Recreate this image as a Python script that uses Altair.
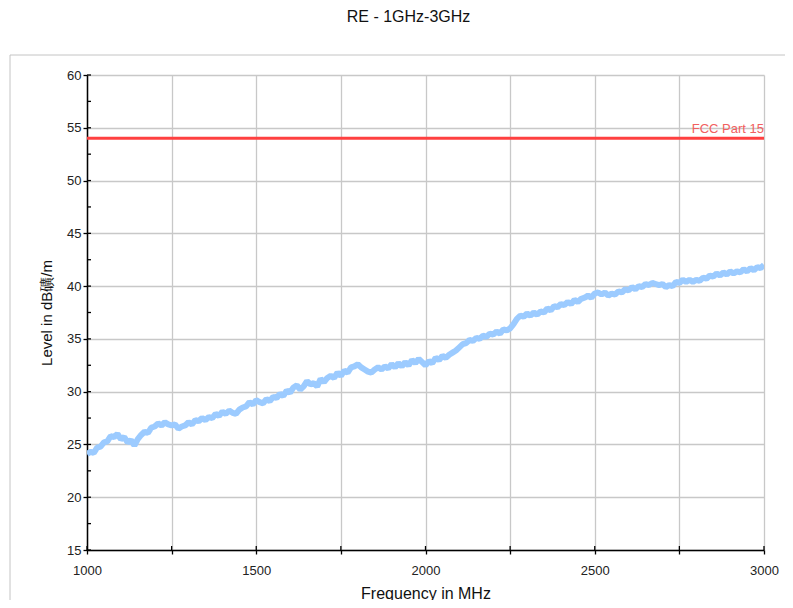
import altair as alt
import pandas as pd

# ---- data ----
freq_mhz = list(range(1000, 3001, 10))
level_dbuv = [
    24.1, 24.3, 24.2, 24.7, 24.8, 25.2, 25.3, 25.8, 25.7, 26.0,
    25.5, 25.7, 25.2, 25.4, 24.9, 25.5, 25.9, 26.2, 26.1, 26.6,
    26.7, 27.0, 26.8, 27.1, 26.9, 26.8, 26.9, 26.5, 26.7, 26.8,
    27.1, 26.9, 27.3, 27.2, 27.5, 27.3, 27.6, 27.5, 27.9, 27.7,
    28.1, 27.9, 28.2, 28.0, 27.9, 28.3, 28.5, 28.6, 29.0, 28.8,
    29.2, 29.0, 28.9, 29.3, 29.1, 29.5, 29.4, 29.8, 29.6, 30.1,
    29.9, 30.4, 30.6, 30.2, 30.5, 31.0, 30.7, 30.8, 30.5, 31.2,
    30.9, 31.3, 31.5, 31.3, 31.8, 31.5, 32.0, 31.8, 32.3, 32.4,
    32.6, 32.3, 32.1, 31.9, 31.8, 32.1, 32.3, 32.1, 32.4, 32.2,
    32.6, 32.3, 32.7, 32.4, 32.8, 32.5, 33.0, 32.7, 33.1, 32.8,
    32.5, 32.9, 32.7, 33.2, 33.0, 33.4, 33.2, 33.5, 33.7, 33.9,
    34.2, 34.5, 34.6, 34.9, 34.8, 35.1, 35.0, 35.3, 35.2, 35.5,
    35.4, 35.7, 35.5, 35.9, 35.8, 36.0, 36.4, 36.9, 37.2, 37.1,
    37.4, 37.2, 37.5, 37.3, 37.6, 37.5, 37.9, 37.7, 38.1, 38.0,
    38.3, 38.2, 38.5, 38.3, 38.7, 38.5, 38.8, 38.9, 39.1, 38.9,
    39.3, 39.4, 39.2, 39.4, 39.1, 39.3, 39.2, 39.5, 39.4, 39.7,
    39.6, 39.9, 39.7, 40.0, 39.9, 40.2, 40.1, 40.3, 40.2, 40.1,
    40.2, 39.9, 40.1, 40.0, 40.4, 40.3, 40.6, 40.4, 40.6, 40.4,
    40.6, 40.5, 40.8, 40.7, 41.0, 40.9, 41.2, 41.0, 41.3, 41.1,
    41.4, 41.2, 41.4, 41.3, 41.6, 41.4, 41.7, 41.5, 41.8, 41.7,
    42.0,
]
limit_name = "FCC Part 15"
limit_level = 54
x_ticks = [1000, 1250, 1500, 1750, 2000, 2250, 2500, 2750, 3000]
y_ticks = [15, 17.5, 20, 22.5, 25, 27.5, 30, 32.5, 35, 37.5, 40, 42.5,
           45, 47.5, 50, 52.5, 55, 57.5, 60]
title_text = "RE - 1GHz-3GHz"
x_title = "Frequency in MHz"
y_title = "Level in dB礦/m"

W, H = 677, 475
FONT = "Liberation Sans"

n = min(len(freq_mhz), len(level_dbuv))
trace = pd.DataFrame({"f": freq_mhz[:n], "lvl": level_dbuv[:n]})
limit_df = pd.DataFrame({"lvl": [limit_level], "f": [x_ticks[-1]], "name": [limit_name]})
yt_df = pd.DataFrame({"v": y_ticks})
xt_df = pd.DataFrame({"v": x_ticks})

xscale = alt.Scale(domain=[1000, 3000], nice=False, zero=False)
yscale = alt.Scale(domain=[15, 60], nice=False, zero=False)

x_axis = alt.Axis(
    values=x_ticks, title=x_title,
    labelExpr="datum.value % 500 == 0 ? datum.label : ''",
    format="d", grid=True, gridColor="#c8c8c8", gridWidth=1.3,
    domainColor="#000000", domainWidth=1.5, tickColor="#000000", tickWidth=1.3,
    tickSize=4, labelFont=FONT, labelFontSize=13, labelColor="#222222",
    labelPadding=10, labelFlush=False, labelOverlap=False,
    titleFont=FONT, titleFontSize=16, titleFontWeight="normal",
    titleColor="#111111", titlePadding=8,
)
y_axis = alt.Axis(
    values=y_ticks, title=y_title,
    labelExpr="datum.value % 5 == 0 ? datum.label : ''",
    grid=True, gridColor="#c8c8c8", gridWidth=1.3,
    domainColor="#000000", domainWidth=1.5, tickColor="#000000", tickWidth=1.3,
    tickSize=4, labelFont=FONT, labelFontSize=13, labelColor="#222222",
    labelPadding=2, labelFlush=False, labelOverlap=False,
    titleFont=FONT, titleFontSize=15, titleFontWeight="normal",
    titleColor="#111111", titlePadding=12,
)

frame = alt.Chart(pd.DataFrame({"a": [0]})).mark_rect(
    fill=None, stroke="#c4c4c4", strokeWidth=1, clip=False
).encode(
    x=alt.value(-77), x2=alt.value(W + 60),
    y=alt.value(-20), y2=alt.value(H + 80),
)

line = alt.Chart(trace).mark_line(
    color="#9ccbff", strokeWidth=6, strokeJoin="bevel", clip=True
).encode(
    x=alt.X("f:Q", scale=xscale, axis=x_axis),
    y=alt.Y("lvl:Q", scale=yscale, axis=y_axis),
)

limit = alt.Chart(limit_df).mark_rule(color="#ff4040", strokeWidth=3).encode(
    y=alt.Y("lvl:Q", scale=yscale), x=alt.value(0), x2=alt.value(W)
)
limit_label = alt.Chart(limit_df).mark_text(
    align="right", baseline="bottom", dy=-2, color="#f26060",
    font=FONT, fontSize=13
).encode(
    x=alt.X("f:Q", scale=xscale), y=alt.Y("lvl:Q", scale=yscale), text="name:N"
)

y_inner = alt.Chart(yt_df).mark_rule(color="#000000", strokeWidth=1.3).encode(
    y=alt.Y("v:Q", scale=yscale), x=alt.value(0), x2=alt.value(4)
)
x_inner = alt.Chart(xt_df).mark_rule(color="#000000", strokeWidth=1.3).encode(
    x=alt.X("v:Q", scale=xscale), y=alt.value(H - 4), y2=alt.value(H)
)

chart = alt.layer(frame, line, limit, limit_label, y_inner, x_inner).properties(
    width=W, height=H,
    padding={"left": 79, "top": 67, "right": 21, "bottom": 50},
    autosize=alt.AutoSizeParams(type="none"),
    title=alt.TitleParams(
        title_text, font=FONT, fontSize=16, fontWeight="normal",
        color="#111111", anchor="middle", offset=30, dx=-17,
    ),
    background="white",
).configure_view(stroke=None)

chart.save("out.html", embed_options={"renderer": "svg", "actions": False})
